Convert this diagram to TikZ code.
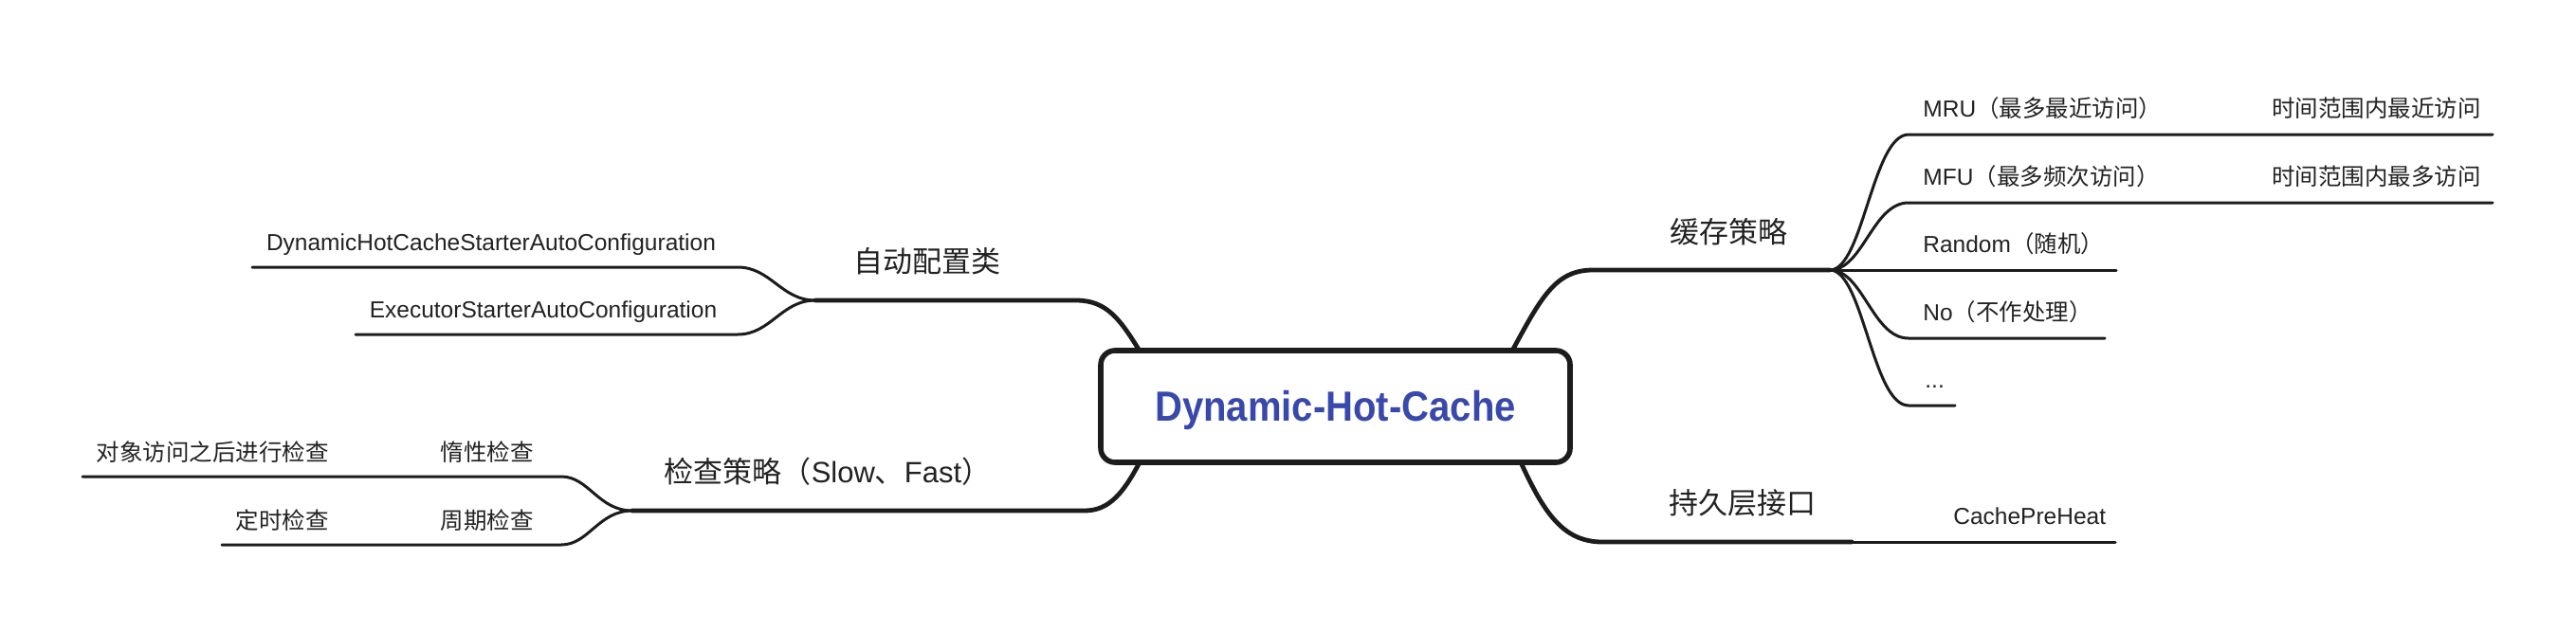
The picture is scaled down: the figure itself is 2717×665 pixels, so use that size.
\documentclass[tikz,border=0pt]{standalone}
\usepackage{graphicx}
\usepackage{fontspec}
\setmainfont{Liberation Sans}
\newfontfamily\cjk{Noto Sans CJK SC}
\definecolor{titleblue}{RGB}{57,73,171}
\definecolor{ink}{RGB}{28,28,28}
\definecolor{txt}{RGB}{34,34,34}
\begin{document}
\begin{tikzpicture}[x=0.5pt,y=-0.5pt,
  mainline/.style={draw=ink,line width=2.4pt,line cap=round},
  subline/.style={draw=ink,line width=1.5pt,line cap=round},
  sublabel/.style={inner sep=0pt,text=txt,font=\fontsize{12.25}{14}\selectfont},
  mainlabel/.style={inner sep=0pt,text=txt,font=\fontsize{15.5}{18}\selectfont},
  rootbox/.style={draw=ink,line width=2.8pt,rounded corners=7.5pt,fill=white,
    minimum width=247.5pt,minimum height=59pt,inner sep=0pt},
  titletext/.style={inner sep=0pt,text=titleblue,font=\bfseries\fontsize{22.25}{26}\selectfont}]
\useasboundingbox (0,0) rectangle (2717,665);
\fill[white] (0,0) rectangle (2717,665);

% ---------- coordinates ----------
% right top branch
\coordinate (rt0) at (1594,372);
\coordinate (rt1) at (1680,285);
\coordinate (rf) at (1930,285);
% right bottom branch
\coordinate (rb0) at (1604,488);
\coordinate (rb1) at (1690,572);
\coordinate (rb2) at (1953,572);
\coordinate (rb3) at (2231,572);
% left top branch
\coordinate (lt0) at (1203,372);
\coordinate (lt1) at (1135,317);
\coordinate (lf) at (860,317);
% left bottom branch
\coordinate (lb0) at (1202,488);
\coordinate (lb1) at (1144,539);
\coordinate (lbf) at (667,539);

% right children line starts/ends
\coordinate (mru0) at (2013,142); \coordinate (mru1) at (2629,142);
\coordinate (mfu0) at (2013,214); \coordinate (mfu1) at (2629,214);
\coordinate (rnd1) at (2232,285);
\coordinate (no0) at (2013,357);  \coordinate (no1) at (2220,357);
\coordinate (dot0) at (2013,428); \coordinate (dot1) at (2062,428);
% left children
\coordinate (dyn0) at (778,282); \coordinate (dyn1) at (266,282);
\coordinate (exe0) at (778,353); \coordinate (exe1) at (375,353);
\coordinate (lazy0) at (592,503); \coordinate (lazy1) at (87,503);
\coordinate (per0) at (592,575); \coordinate (per1) at (234,575);

% ---------- main branches ----------
\draw[mainline] (rt0) .. controls (1625,315) and (1640,285) .. (rt1) -- (rf);
\draw[mainline] (rb0) .. controls (1628,540) and (1648,572) .. (rb1) -- (rb2);
\draw[subline] (rb2) -- (rb3);
\draw[mainline] (lt0) .. controls (1182,338) and (1168,317) .. (lt1) -- (lf);
\draw[mainline] (lb0) .. controls (1185,520) and (1170,539) .. (lb1) -- (lbf);

% ---------- right children ----------
\draw[subline] (rf) .. controls (1965,285) and (1975,142) .. (mru0) -- (mru1);
\draw[subline] (rf) .. controls (1965,285) and (1975,214) .. (mfu0) -- (mfu1);
\draw[subline] (rf) -- (rnd1);
\draw[subline] (rf) .. controls (1965,285) and (1975,357) .. (no0) -- (no1);
\draw[subline] (rf) .. controls (1965,285) and (1975,428) .. (dot0) -- (dot1);

% ---------- left children ----------
\draw[subline] (lf) .. controls (824,317) and (813,282) .. (dyn0) -- (dyn1);
\draw[subline] (lf) .. controls (824,317) and (813,353) .. (exe0) -- (exe1);
\draw[subline] (lbf) .. controls (631,539) and (621,503) .. (lazy0) -- (lazy1);
\draw[subline] (lbf) .. controls (631,539) and (621,575) .. (per0) -- (per1);

% ---------- root ----------
\node[rootbox] (root) at (1408.5,429) {};
\node[titletext,anchor=base] (title) at (1408.5,444) {\scalebox{0.9}[1]{Dynamic-Hot-Cache}};

% ---------- main labels ----------
\node[mainlabel,anchor=base] (cache) at (1823.5,256) {\cjk 缓存策略};
\node[mainlabel,anchor=base] (persist) at (1838,542) {\cjk 持久层接口};
\node[mainlabel,anchor=base] (auto) at (977.5,287) {\cjk 自动配置类};
\node[mainlabel,anchor=base] (check) at (873,509) {{\cjk 检查策略（}Slow{\cjk 、}Fast{\cjk ）}};

% ---------- right child labels ----------
\node[sublabel,anchor=base west] (mru) at (2028,123) {MRU{\cjk （最多最近访问）}};
\node[sublabel,anchor=base west] (mfu) at (2028,195) {MFU{\cjk （最多频次访问）}};
\node[sublabel,anchor=base west] (rnd) at (2028,266) {Random{\cjk （随机）}};
\node[sublabel,anchor=base west] (no) at (2028,338) {No{\cjk （不作处理）}};
\node[sublabel,anchor=base west] (dots) at (2030,409) {...};
\node[sublabel,anchor=base west] (mrud) at (2396,123) {\cjk 时间范围内最近访问};
\node[sublabel,anchor=base west] (mfud) at (2396,195) {\cjk 时间范围内最多访问};
\node[sublabel,anchor=base west] (preheat) at (2060,553) {CachePreHeat};

% ---------- left child labels ----------
\node[sublabel,anchor=base] (dyn) at (518,264) {DynamicHotCacheStarterAutoConfiguration};
\node[sublabel,anchor=base] (exe) at (573,335) {ExecutorStarterAutoConfiguration};
\node[sublabel,anchor=base east] (lazy) at (563,486) {\cjk 惰性检查};
\node[sublabel,anchor=base east] (per) at (563,558) {\cjk 周期检查};
\node[sublabel,anchor=base east] (lazyd) at (347,486) {\cjk 对象访问之后进行检查};
\node[sublabel,anchor=base east] (perd) at (347,558) {\cjk 定时检查};
\end{tikzpicture}
\end{document}
